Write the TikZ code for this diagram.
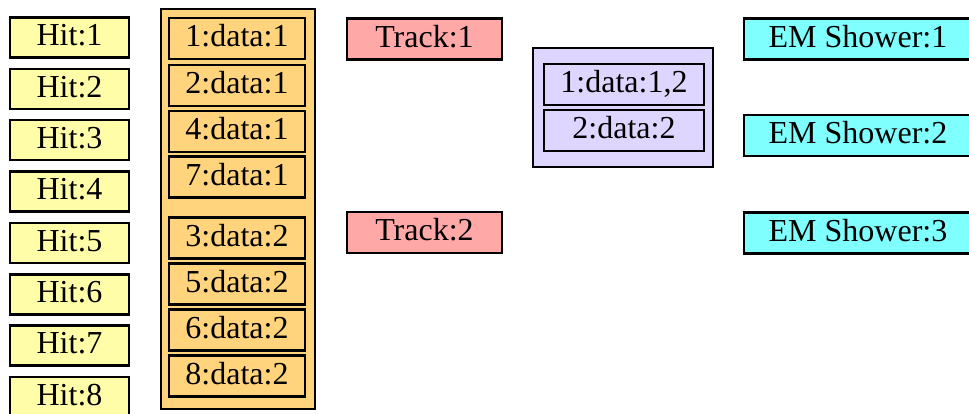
\documentclass[tikz,border=0pt]{standalone}
\usepackage{fontspec}
\setmainfont{Liberation Serif}
\definecolor{hitcol}{HTML}{FFFDA8}
\definecolor{datacol}{HTML}{FFD47C}
\definecolor{trackcol}{HTML}{FFA8A8}
\definecolor{purpcol}{HTML}{DFD6FF}
\definecolor{emcol}{HTML}{80FFFF}
\tikzset{
  box/.style={draw=black, line width=2.4pt, inner sep=0pt, anchor=center,
    font=\fontsize{32}{38}\selectfont, text height=21pt, text depth=4.5pt},
  hitbox/.style={box, fill=hitcol, minimum width=119pt, minimum height=40pt},
  databox/.style={box, fill=datacol, minimum width=136pt, minimum height=41pt},
  trackbox/.style={box, fill=trackcol, minimum width=155pt, minimum height=41pt},
  purpbox/.style={box, fill=purpcol, minimum width=160pt, minimum height=41pt},
  embox/.style={box, fill=emcol, minimum width=228pt, minimum height=41pt},
  container/.style={draw=black, line width=2.4pt, inner sep=0pt, anchor=center}
}
\begin{document}
\begin{tikzpicture}[x=1pt,y=-1pt]
\useasboundingbox (0,0) rectangle (969,413);
\clip (0,0) rectangle (969,413);
% hits
\node[hitbox] (h1) at (69.5,37.5) {Hit:1};
\node[hitbox] (h2) at (69.5,88.9) {Hit:2};
\node[hitbox] (h3) at (69.5,140.2) {Hit:3};
\node[hitbox] (h4) at (69.5,191.6) {Hit:4};
\node[hitbox] (h5) at (69.5,242.9) {Hit:5};
\node[hitbox] (h6) at (69.5,294.3) {Hit:6};
\node[hitbox] (h7) at (69.5,345.6) {Hit:7};
\node[hitbox] (h8) at (69.5,397) {Hit:8};
% data container
\node[container, fill=datacol, minimum width=154pt, minimum height=400pt] (dcont) at (238,209) {};
\node[databox] (d1) at (237,38.5) {1:data:1};
\node[databox] (d2) at (237,85.5) {2:data:1};
\node[databox] (d4) at (237,131.5) {4:data:1};
\node[databox] (d7) at (237,177) {7:data:1};
\node[databox] (d3) at (237,238) {3:data:2};
\node[databox] (d5) at (237,284) {5:data:2};
\node[databox] (d6) at (237,330) {6:data:2};
\node[databox] (d8) at (237,376) {8:data:2};
% tracks
\node[trackbox] (t1) at (424.5,39) {Track:1};
\node[trackbox] (t2) at (424.5,232.5) {Track:2};
% purple container
\node[container, fill=purpcol, minimum width=180pt, minimum height=119pt] (pcont) at (623,107.5) {};
\node[purpbox] (p1) at (624,84.5) {1:data:1,2};
\node[purpbox] (p2) at (624,130.5) {2:data:2};
% showers
\node[embox] (e1) at (858,39) {EM Shower:1};
\node[embox] (e2) at (858,135.5) {EM Shower:2};
\node[embox] (e3) at (858,233) {EM Shower:3};
\end{tikzpicture}
\end{document}
